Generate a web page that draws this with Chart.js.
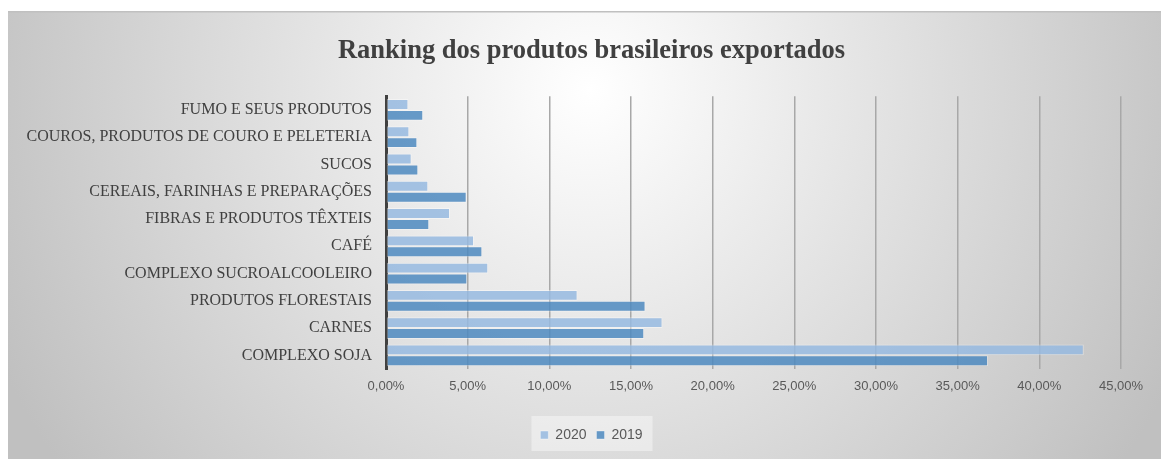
<!DOCTYPE html>
<html><head><meta charset="utf-8">
<script src="https://cdn.jsdelivr.net/npm/chart.js@4"></script>
<style>html,body{margin:0;padding:0;background:#fff;overflow:hidden}</style>
</head><body>
<canvas id="c" width="1161" height="459"></canvas>
<script>
const categories = [
  'FUMO E SEUS PRODUTOS',
  'COUROS, PRODUTOS DE COURO E PELETERIA',
  'SUCOS',
  'CEREAIS, FARINHAS E PREPARAÇÕES',
  'FIBRAS E PRODUTOS TÊXTEIS',
  'CAFÉ',
  'COMPLEXO SUCROALCOOLEIRO',
  'PRODUTOS FLORESTAIS',
  'CARNES',
  'COMPLEXO SOJA'
];
const values2020 = [1.37, 1.43, 1.57, 2.59, 3.92, 5.39, 6.26, 11.73, 16.93, 42.72];
const values2019 = [2.28, 1.92, 1.98, 4.94, 2.65, 5.90, 4.98, 15.89, 15.81, 36.86];
const xTickLabels = ['0,00%','5,00%','10,00%','15,00%','20,00%','25,00%','30,00%','35,00%','40,00%','45,00%'];
const seriesNames = ['2020', '2019'];

const SHIFT = 21; // title/legend horizontal offset

const bgPlugin = {
  id: 'bg',
  afterLayout(chart) {
    const t = chart.titleBlock;
    if (t) { t.left += SHIFT; t.right += SHIFT; }
    const lg = chart.legend;
    if (lg) { lg.left += SHIFT; lg.right += SHIFT; }
  },
  beforeDraw(chart) {
    const ctx = chart.ctx;
    const W = chart.width, H = chart.height;
    ctx.save();
    ctx.fillStyle = '#ffffff';
    ctx.fillRect(0, 0, W, H);
    const fx = 8, fy = 11;
    const g = ctx.createRadialGradient(590, 90, 0, 590, 90, 650);
    g.addColorStop(0, '#ffffff');
    g.addColorStop(1, '#c0c0c0');
    ctx.fillStyle = g;
    ctx.fillRect(fx, fy, W - fx, H - fy);
    ctx.fillStyle = '#c0c0c0';
    ctx.fillRect(fx, fy, W - fx, 1.5);
    const lg = chart.legend;
    if (lg) {
      const cx = (lg.left + lg.right) / 2;
      ctx.fillStyle = 'rgba(245,245,245,0.55)';
      ctx.fillRect(cx - 60, lg.top - 2, 121, 35);
    }
    ctx.restore();
  }
};

new Chart(document.getElementById('c'), {
  type: 'bar',
  data: {
    labels: categories,
    datasets: [
      { label: seriesNames[0], data: values2020,
        backgroundColor: 'rgba(151,186,225,0.85)', borderColor: 'rgba(255,255,255,0.4)', borderWidth: 1, borderSkipped: false },
      { label: seriesNames[1], data: values2019,
        backgroundColor: 'rgba(77,137,192,0.85)', borderColor: 'rgba(255,255,255,0.35)', borderWidth: 1, borderSkipped: false }
    ]
  },
  options: {
    indexAxis: 'y',
    responsive: false,
    animation: false,
    devicePixelRatio: 1,
    categoryPercentage: 0.8,
    barPercentage: 1.0,
    layout: { padding: { left: 20, right: 40, top: 11, bottom: 7 } },
    scales: {
      x: {
        min: 0, max: 45,
        ticks: {
          stepSize: 5,
          padding: 10,
          color: '#595959',
          font: { family: 'Liberation Sans', size: 13 },
          callback: v => xTickLabels[Math.round(v / 5)]
        },
        grid: { color: '#a8a8a8', lineWidth: 1.5, drawTicks: false },
        border: { display: false },
        afterFit: s => { s.height = 49; }
      },
      y: {
        ticks: {
          padding: 6,
          color: '#404040',
          font: { family: 'Liberation Serif', size: 16 }
        },
        grid: { display: false },
        border: { display: true, color: '#404040', width: 3 },
        afterFit: s => { s.width = 366; }
      }
    },
    plugins: {
      title: {
        display: true,
        text: 'Ranking dos produtos brasileiros exportados',
        color: '#404040',
        font: { family: 'Liberation Serif', size: 26.5, weight: 'bold', lineHeight: 1.2 },
        padding: { top: 24, bottom: 29.5 }
      },
      legend: {
        position: 'bottom',
        labels: {
          boxWidth: 8, boxHeight: 8, padding: 10,
          color: '#595959',
          font: { family: 'Liberation Sans', size: 14 }
        }
      },
      tooltip: { enabled: false }
    }
  },
  plugins: [bgPlugin]
});
</script>
</body></html>
